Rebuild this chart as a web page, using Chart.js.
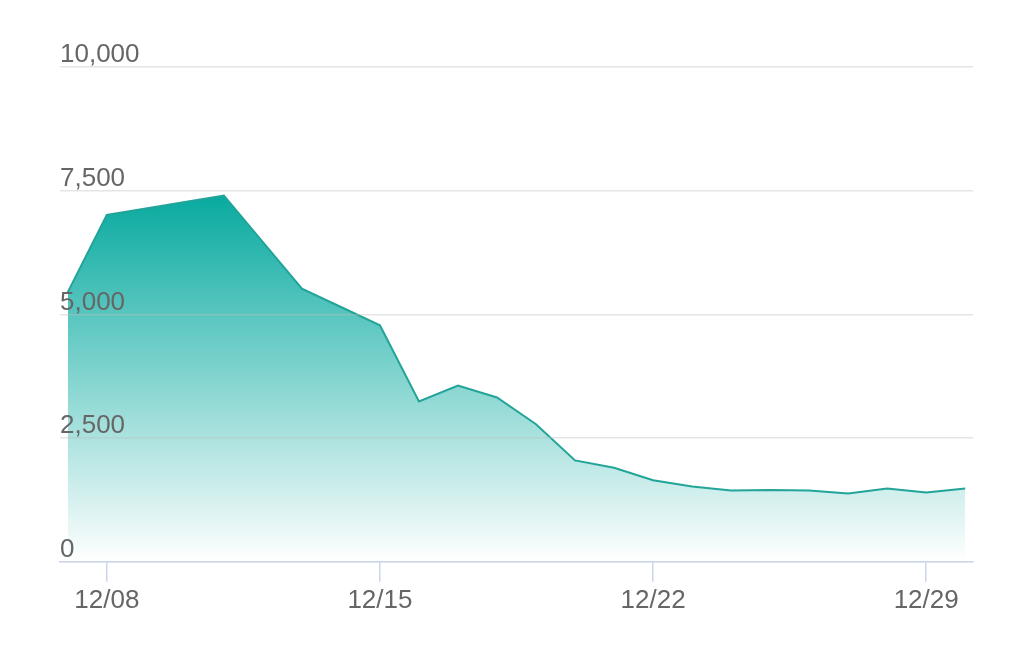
<!DOCTYPE html>
<html>
<head>
<meta charset="utf-8">
<script src="https://cdn.jsdelivr.net/npm/chart.js@4.4.0/dist/chart.umd.min.js"></script>
<style>
  html, body { margin: 0; padding: 0; background: #fff; }
  #wrap { width: 1024px; height: 663px; }
</style>
</head>
<body>
<div id="wrap"><canvas id="myChart"></canvas></div>
<script>
// dates of each point, 12/07 .. 12/30
var dates = ['12/07', '12/08', '12/09', '12/10', '12/11', '12/12', '12/13', '12/14',
             '12/15', '12/16', '12/17', '12/18', '12/19', '12/20', '12/21', '12/22',
             '12/23', '12/24', '12/25', '12/26', '12/27', '12/28', '12/29', '12/30'];
var values = [5450, 7010, 7140, 7270, 7400, 6460, 5520, 5150,
              4780, 3240, 3560, 3320, 2780, 2050, 1900, 1650,
              1520, 1440, 1450, 1440, 1380, 1480, 1400, 1480];
// which dates get a tick label on the x axis
var xTickDates = ['12/08', '12/15', '12/22', '12/29'];
var yTicks = [0, 2500, 5000, 7500, 10000];

function graphs() {
    var ctx = document.getElementById('myChart').getContext('2d');

    var points = values.map(function (v, i) { return { x: i, y: v }; });

    chart = new Chart(ctx, {
        type: 'line',
        data: {
            datasets: [{
                data: points,
                borderColor: '#22a498',
                borderWidth: 2,
                pointRadius: 0,
                tension: 0,
                fill: 'origin',
                backgroundColor: function (context) {
                    var c = context.chart;
                    var area = c.chartArea;
                    if (!area) return 'rgba(10,170,160,0.6)';
                    var top = c.scales.y.getPixelForValue(Math.max.apply(null, values));
                    var g = c.ctx.createLinearGradient(0, top, 0, area.bottom);
                    g.addColorStop(0, 'rgb(8,170,160)');
                    g.addColorStop(1, 'rgba(255,255,255,1)');
                    return g;
                }
            }]
        },
        options: {
            responsive: true,
            maintainAspectRatio: false,
            animation: false,
            layout: { padding: { left: 60, right: 51, top: 67, bottom: 44 } },
            plugins: { legend: { display: false }, tooltip: { enabled: false } },
            scales: {
                x: {
                    type: 'linear',
                    min: -0.2,
                    max: dates.length - 1 + 0.2,
                    afterBuildTicks: function (axis) {
                        axis.ticks = xTickDates.map(function (d) { return { value: dates.indexOf(d) }; });
                    },
                    grid: { drawOnChartArea: false, tickLength: 20, color: '#ccd6eb', lineWidth: 1.5 },
                    border: { color: '#ccd6eb', width: 1.5, z: 2 },
                    ticks: {
                        color: '#666666',
                        font: { family: 'Liberation Sans', size: 26 },
                        padding: 3,
                        maxRotation: 0,
                        autoSkip: false,
                        callback: function (v) { return dates[v]; }
                    }
                },
                y: {
                    min: 0,
                    max: 10000,
                    afterBuildTicks: function (axis) {
                        axis.ticks = yTicks.map(function (v) { return { value: v }; });
                    },
                    grid: { drawTicks: false, color: 'rgba(190,190,190,0.4)', lineWidth: 1.5, z: 1 },
                    border: { display: false },
                    ticks: {
                        z: 1,
                        mirror: true,
                        padding: 0,
                        labelOffset: -12,
                        color: '#666666',
                        font: { family: 'Liberation Sans', size: 26 },
                        callback: function (v) { return v.toLocaleString('en-US'); }
                    }
                }
            }
        }
    });
}

graphs();
</script>
</body>
</html>
